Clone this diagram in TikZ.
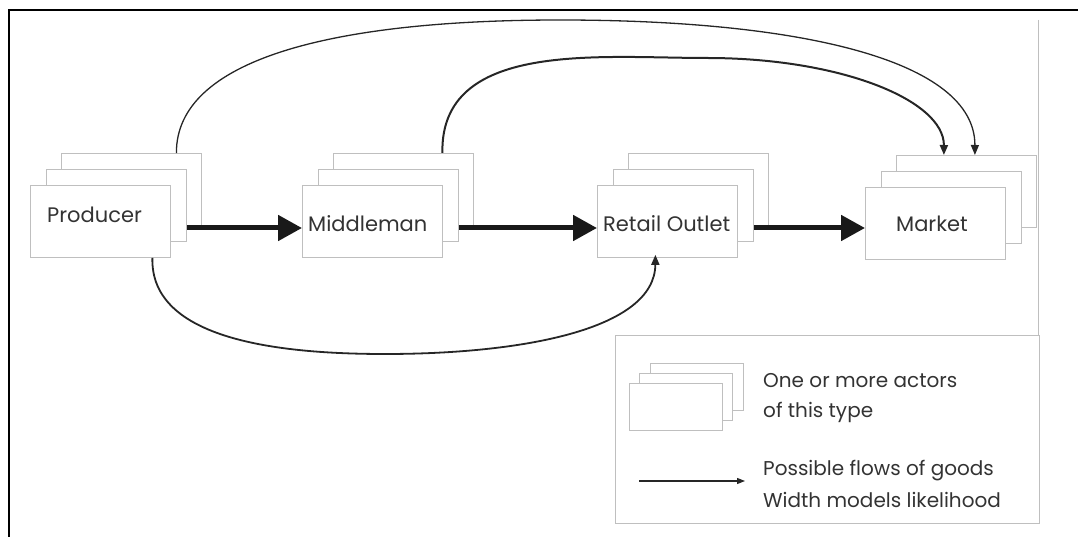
\documentclass[tikz,border=0pt]{standalone}
\usepackage{fontspec}
\setmainfont{Poppins}
\usetikzlibrary{arrows.meta}
\begin{document}
\begin{tikzpicture}[x=1pt,y=-1pt,
  actor/.style={draw=black!25,fill=white,line width=0.8pt,minimum width=140pt,minimum height=72pt,anchor=north west,inner sep=0pt},
  legactor/.style={draw=black!25,fill=white,line width=0.8pt,minimum width=93pt,minimum height=47pt,anchor=north west,inner sep=0pt},
  lbl/.style={font=\fontsize{21}{24}\selectfont,text=black!80,anchor=base west,inner sep=0pt},
  leglbl/.style={font=\fontsize{20}{24}\selectfont,text=black!80,anchor=base west,inner sep=0pt},
  bigflow/.style={line width=5pt,black!90,-{Triangle[length=24pt,width=25pt]}},
  curveflow/.style={black!85,-{Triangle[length=10pt,width=8pt]}},
  frame/.style={line width=2pt,black}]
\useasboundingbox (0,0) rectangle (1078,537);
\draw[frame] (9,537) -- (9,10) -- (1078,10);
\draw[black!25,line width=1pt] (1038,20) -- (1038,335);
% Producer
\node[actor] (pb) at (61,153) {};
\node[actor] (pm) at (46,169) {};
\node[actor] (pf) at (30,185) {};
\node[lbl] (pt) at (47,223) {Producer};
% Middleman
\node[actor] (mb) at (333,153) {};
\node[actor] (mm) at (318,169) {};
\node[actor] (mf) at (302,185) {};
\node[lbl] (mt) at (308,232) {Middleman};
% Retail
\node[actor] (rb) at (628,153) {};
\node[actor] (rm) at (613,169) {};
\node[actor] (rf) at (597,185) {};
\node[lbl] (rt) at (603,232) {Retail Outlet};
% Market
\node[actor] (kb) at (896,155) {};
\node[actor] (km) at (881,171) {};
\node[actor] (kf) at (865,187) {};
\node[lbl] (kt) at (896,232) {Market};
% main flows
\coordinate (ay) at (0,228);
\draw[bigflow] (pm.east |- ay) -- (mf.west |- ay);
\draw[bigflow] (mm.east |- ay) -- (rf.west |- ay);
\draw[bigflow] (rm.east |- ay) -- (kf.west |- ay);
% curved flows
\draw[curveflow,line width=1.3pt] ([xshift=45pt]pb.north) .. controls (176,60) and (330,20) .. (560,20)
   .. controls (800,20) and (975,60) .. ([xshift=8.5pt]kb.north);
\draw[curveflow,line width=2pt] ([xshift=39pt]mb.north) .. controls (440,40) and (600,58) .. (707,58)
   .. controls (840,58) and (944,100) .. ([xshift=-22.5pt]kb.north);
\draw[curveflow,line width=1.8pt] ([xshift=52pt]pf.south) .. controls (150,340) and (280,354) .. (385,354)
   .. controls (520,354) and (655,330) .. ([xshift=-12pt,yshift=3pt]rf.south);
% legend
\node[draw=black!25,line width=1pt,minimum width=424pt,minimum height=188pt,anchor=north west,inner sep=0pt] (leg) at (615,335) {};
\node[legactor] (lb) at (650,363) {};
\node[legactor] (lm) at (639,373) {};
\node[legactor] (lf) at (629,383) {};
\node[leglbl] (l1) at (763,387) {One or more actors};
\node[leglbl] (l2) at (763,417) {of this type};
\coordinate (la) at (639,481);
\coordinate (lz) at (745,481);
\draw[black!85,line width=1.2pt,-{Triangle[length=8pt,width=6pt]}] (la) -- (lz);
\node[leglbl] (l3) at (763,475) {Possible flows of goods};
\node[leglbl] (l4) at (763,507) {Width models likelihood};
\end{tikzpicture}
\end{document}
